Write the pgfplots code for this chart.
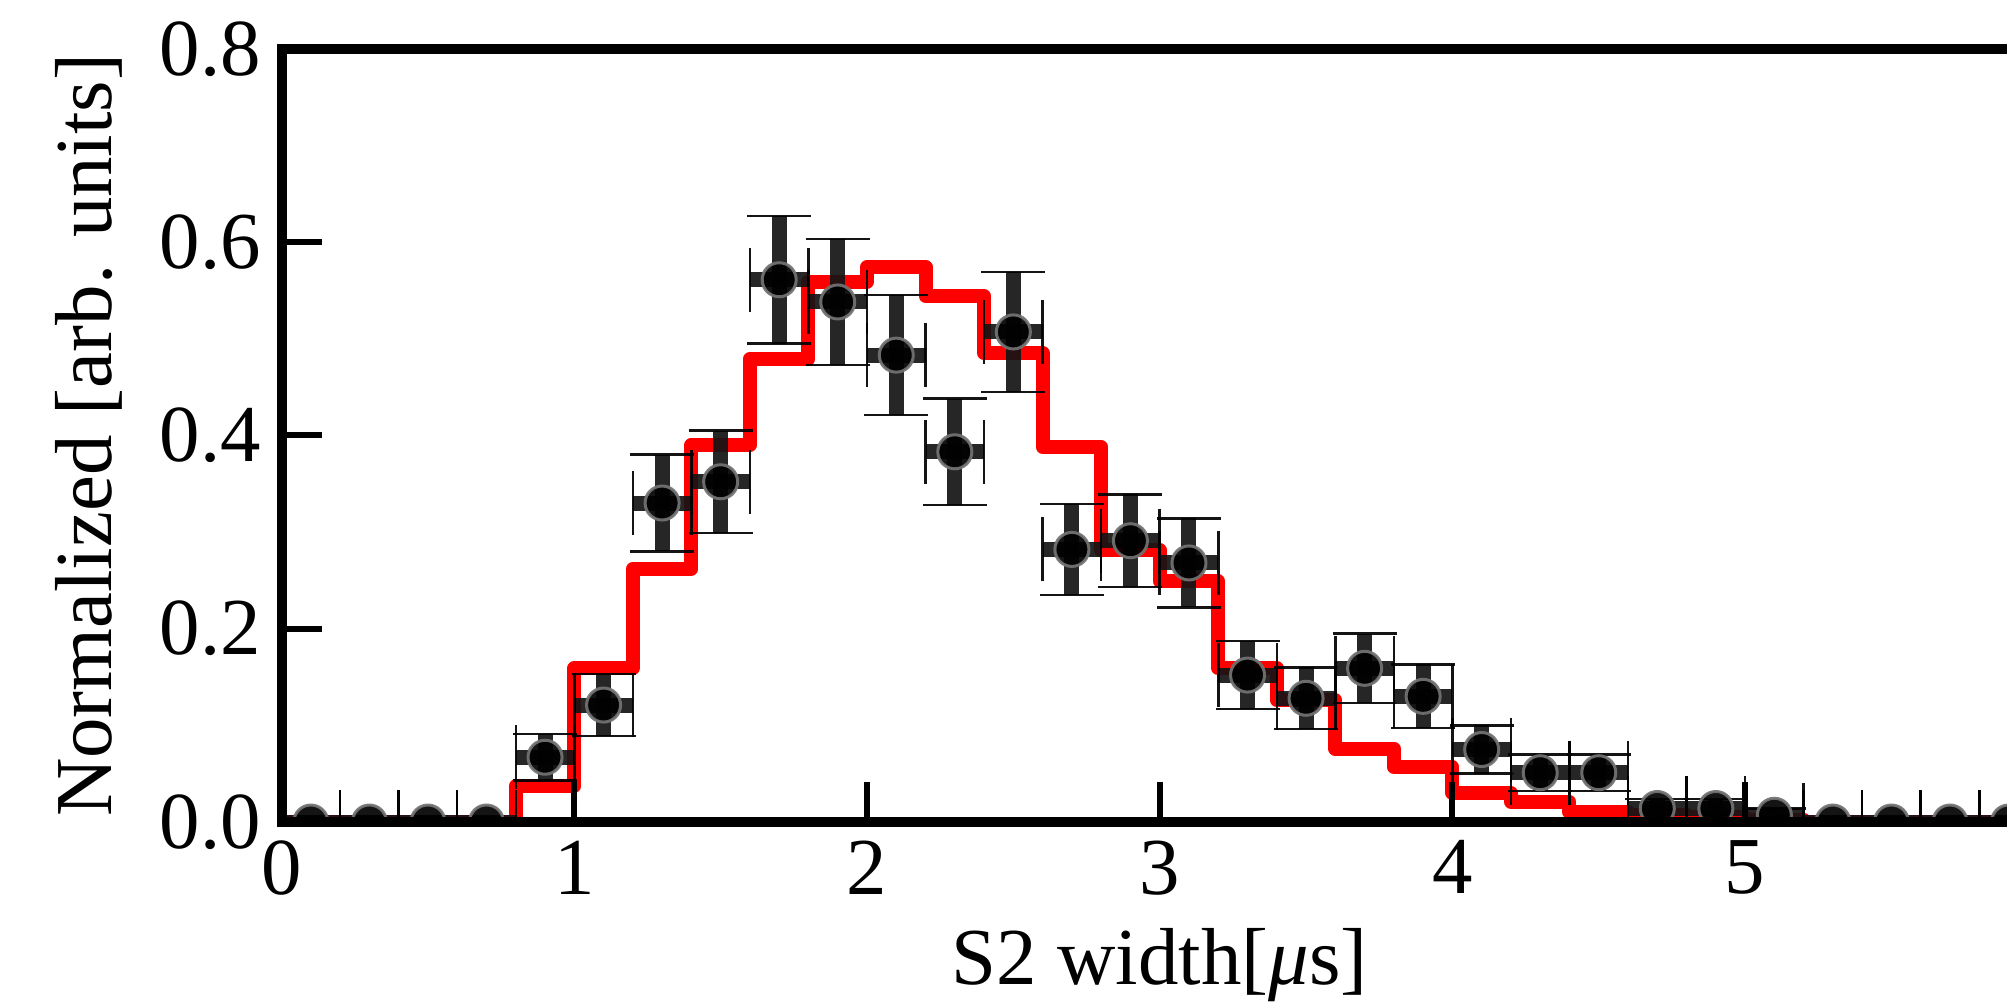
\documentclass[border=0pt]{standalone}
\usepackage{pgfplots}
\pgfplotsset{compat=1.18}
\usepackage{pgfplotstable}
\usepackage{fontspec}
\setmainfont{Liberation Serif}

\pgfplotstableread{
x y ex ey
0.1 0 0.1 0
0.3 0 0.1 0
0.5 0 0.1 0
0.7 0 0.1 0
0.9 0.067 0.1 0.024
1.1 0.121 0.1 0.032
1.3 0.330 0.1 0.050
1.5 0.352 0.1 0.053
1.7 0.561 0.1 0.066
1.9 0.538 0.1 0.065
2.1 0.483 0.1 0.062
2.3 0.383 0.1 0.055
2.5 0.507 0.1 0.062
2.7 0.282 0.1 0.047
2.9 0.291 0.1 0.048
3.1 0.268 0.1 0.046
3.3 0.152 0.1 0.035
3.5 0.128 0.1 0.032
3.7 0.159 0.1 0.036
3.9 0.130 0.1 0.033
4.1 0.075 0.1 0.025
4.3 0.051 0.1 0.019
4.5 0.051 0.1 0.019
4.7 0.014 0.1 0.010
4.9 0.014 0.1 0.010
5.1 0.007 0.1 0.007
5.3 0 0.1 0
5.5 0 0.1 0
5.7 0 0.1 0
5.9 0 0.1 0
}\datatab

\pgfplotstableread{
x y
0.0 0
0.2 0
0.4 0
0.6 0
0.8 0.037
1.0 0.159
1.2 0.262
1.4 0.390
1.6 0.479
1.8 0.559
2.0 0.574
2.2 0.544
2.4 0.485
2.6 0.388
2.8 0.281
3.0 0.249
3.2 0.159
3.4 0.126
3.6 0.076
3.8 0.057
4.0 0.030
4.2 0.021
4.4 0.010
4.6 0.007
4.8 0.005
5.0 0.002
5.2 0
5.4 0
5.6 0
5.8 0
6.0 0
}\mctab

\begin{document}
\begin{tikzpicture}
\begin{axis}[
  x=29.27mm, y=96.66mm,
  xmin=0, xmax=6, ymin=0, ymax=0.8,
  axis on top,
  clip marker paths=true,
  axis line style={line width=1mm},
  tick align=inside, tick pos=left,
  major tick length=4mm,
  every tick/.style={line width=0.6mm, black},
  xtick={0,1,2,3,4,5}, ytick={0,0.2,0.4,0.6,0.8},
  /pgf/number format/assume math mode=true,
  tick label style={font=\fontsize{23}{27}\selectfont},
  yticklabel style={inner sep=0pt, xshift=-2mm, /pgf/number format/.cd, fixed, fixed zerofill, precision=1},
  xticklabel style={inner sep=0pt, yshift=-1.8mm},
  xlabel={S2 width[\textit{μ}s]},
  ylabel={Normalized [arb. units]},
  label style={font=\fontsize{23}{27}\selectfont},
  xlabel style={at={(axis cs:3,-0.1686)}, anchor=base},
  ylabel style={at={(axis cs:-0.5805,0.4)}, anchor=base},
]
\addplot[red, line width=1.4mm, line join=round, line cap=round, const plot mark left, no markers]
  table[x=x, y=y]{\mctab};
\addplot[only marks, mark=*, mark size=1.7mm,
  mark options={fill=black, draw=black!55, line width=0.3mm}, opacity=0.92,
  error bars/.cd, x dir=both, x explicit, y dir=both, y explicit,
  error bar style={line width=1.5mm, black!92},
  error mark options={rotate=90, line width=0.25mm, mark size=3.2mm, black}]
  table[x=x, y=y, x error=ex, y error=ey]{\datatab};
\end{axis}
\pgfresetboundingbox
\path[use as bounding box] ([xshift=-28.16mm,yshift=-18.0mm]current axis.south west) rectangle ([xshift=172.54mm,yshift=82.2mm]current axis.south west);
\end{tikzpicture}
\end{document}
